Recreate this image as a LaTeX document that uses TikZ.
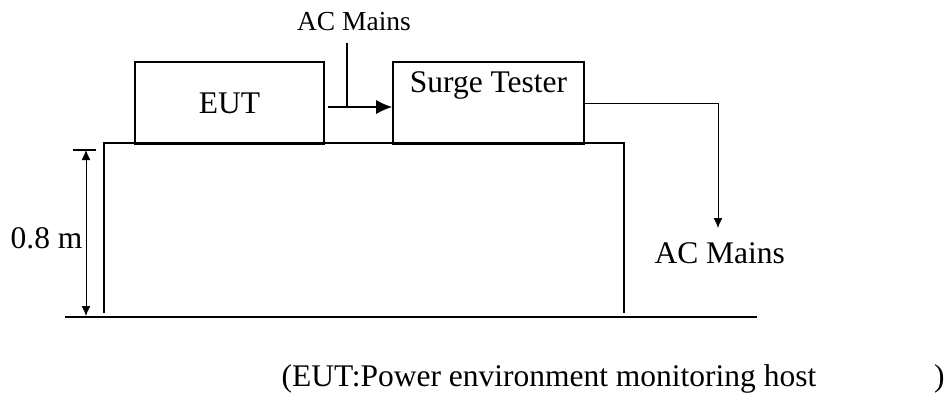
\documentclass[tikz,border=0pt]{standalone}
\usepackage{fontspec}
\setmainfont{Liberation Serif}
\usetikzlibrary{arrows.meta}
\begin{document}
\begin{tikzpicture}[x=1pt, y=-1pt, line width=1.2pt,
    >={Latex[length=10pt,width=9pt]},
    box/.style={draw, rectangle, inner sep=0pt, line width=1.6pt},
    txt/.style={inner sep=0pt, font=\fontsize{31.5}{38}\selectfont}]
    \useasboundingbox (0,0) rectangle (946,392);

    % boxes on the table
    \node[box, minimum width=189pt, minimum height=82pt] (eut) at (229.5,103) {};
    \node[txt] (eutlbl) at (229.5,103) {EUT};
    \node[box, minimum width=191pt, minimum height=82pt] (st) at (488.5,103) {};
    \node[txt] (stlbl) at (488.5,85) {Surge Tester};

    % table and floor
    \draw[line width=1.5pt] (104,313) |- (624,143) -- (624,313);
    \draw[line width=2pt] (65,317) -- (757,317);

    % 0.8 m dimension
    \coordinate (dtop) at (86,150);
    \coordinate (dbot) at (86,316);
    \draw (73,150) -- (96,150);
    \draw[<->, line width=1pt] (dtop) -- (dbot);
    \node[txt, anchor=east] (h) at (83,238) {0.8 m};

    % mains into the tester
    \node[txt, font=\fontsize{27.5}{33}\selectfont] (actop) at (354,22) {AC Mains};
    \coordinate (acin) at (347,43);
    \coordinate (acj) at (347,107);
    \draw[line width=2.2pt] (acin) -- (acj);
    \draw[line width=2.6pt] (eut.east |- acj) ++(3,0) -- (acj);
    \draw[-{Latex[length=16pt,width=14pt]}, line width=1.3pt] (acj) -- (st.west |- acj);

    % tester out to mains
    \coordinate (outc) at (718,103);
    \coordinate (outend) at (718,228);
    \draw[line width=1pt] (st.east) -- (outc);
    \draw[->, line width=1pt] (outc) -- (outend);
    \node[txt, anchor=west] (acr) at (654,253) {AC Mains};

    % caption
    \node[txt, anchor=base west] (cap) at (281,386)
        {\makebox[663pt][l]{(EUT:Power environment monitoring host\hfill)}};
\end{tikzpicture}
\end{document}
